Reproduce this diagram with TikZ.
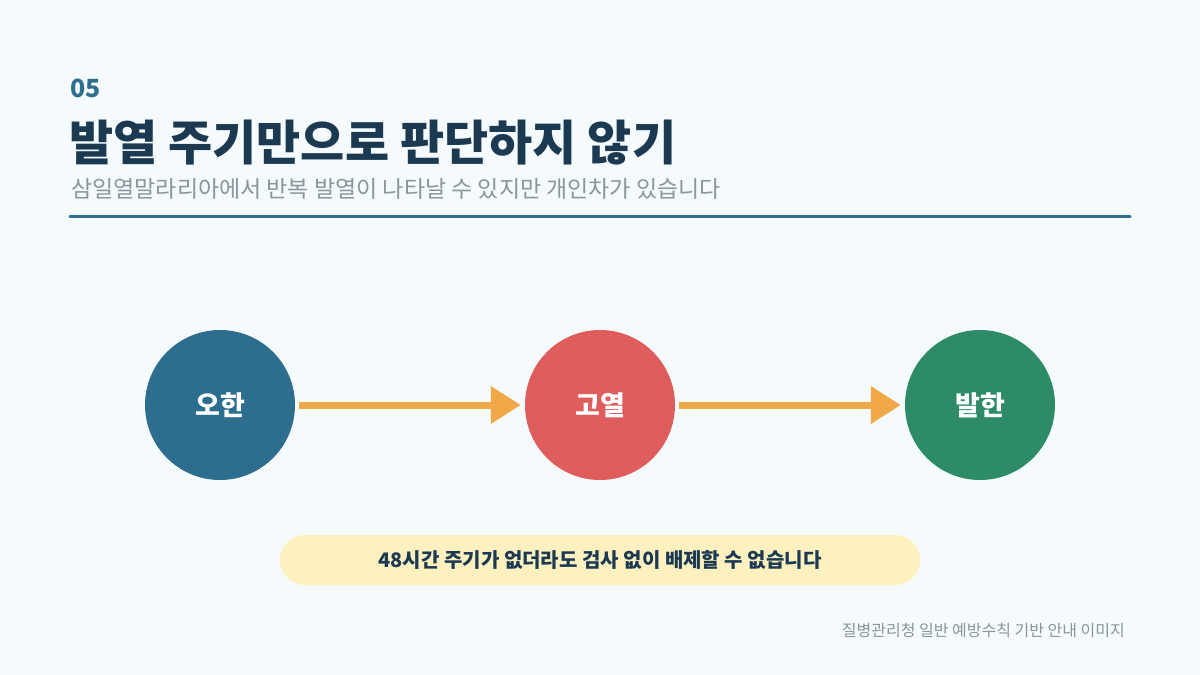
\documentclass[tikz,border=0pt]{standalone}
\usepackage{fontspec}
\setmainfont{Noto Sans CJK KR}
\usetikzlibrary{arrows.meta}
\definecolor{bg}{HTML}{F5FAFC}
\definecolor{acc}{HTML}{2E6F8E}
\definecolor{ttl}{HTML}{1B3A52}
\definecolor{sub}{HTML}{8A959C}
\definecolor{cA}{HTML}{2D6E8E}
\definecolor{cB}{HTML}{E05D5D}
\definecolor{cC}{HTML}{2E8B68}
\definecolor{arr}{HTML}{F0A848}
\definecolor{pill}{HTML}{FFF1BF}
\begin{document}
\begin{tikzpicture}[x=1pt,y=-1pt,
  circ/.style={circle,minimum size=150pt,inner sep=0pt,text=white,font=\fontsize{27}{30}\selectfont\bfseries},
  con/.style={arr,line width=7pt,-{Triangle[length=30pt,width=36pt]},shorten >=4pt,shorten <=4pt}]
\fill[bg] (0,0) rectangle (1200,675);
\useasboundingbox (0,0) rectangle (1200,675);
\node[anchor=west,text=acc,font=\fontsize{25}{28}\selectfont\bfseries,inner sep=0pt] (num) at (70,88) {05};
\node[anchor=west,text=ttl,font=\fontsize{48}{54}\selectfont\bfseries,inner sep=0pt] (title) at (69,143) {발열 주기만으로 판단하지 않기};
\node[anchor=west,text=sub,font=\fontsize{23}{26}\selectfont,inner sep=0pt] (subt) at (71,189) {삼일열말라리아에서 반복 발열이 나타날 수 있지만 개인차가 있습니다};
\draw[acc,line width=3pt,line cap=round] (70,216) coordinate (l1) -- (1130,216) coordinate (l2);
\node[circ,fill=cA] (a) at (220,405) {오한};
\node[circ,fill=cB] (b) at (600,405) {고열};
\node[circ,fill=cC] (c) at (980,405) {발한};
\draw[con] (a) -- (b);
\draw[con] (b) -- (c);
\node[fill=pill,rounded corners=25pt,minimum width=640pt,minimum height=50pt,text=ttl,font=\fontsize{20}{23}\selectfont\bfseries] (p) at (600,560) {48시간 주기가 없더라도 검사 없이 배제할 수 없습니다};
\node[anchor=east,text=sub,font=\fontsize{16}{18}\selectfont,inner sep=0pt] (foot) at (1125,630) {질병관리청 일반 예방수칙 기반 안내 이미지};
\end{tikzpicture}
\end{document}
